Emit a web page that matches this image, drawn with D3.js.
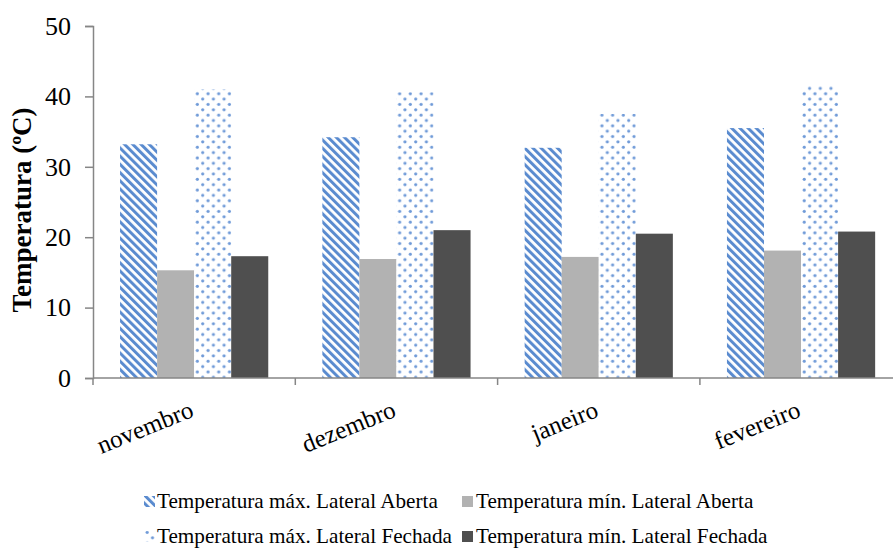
<!DOCTYPE html>
<html>
<head>
<meta charset="utf-8">
<script src="https://cdn.jsdelivr.net/npm/d3@7"></script>
<style>
  html, body { margin: 0; padding: 0; background: #fff; }
  svg { display: block; font-family: "Liberation Serif", "Times New Roman", serif; }
</style>
</head>
<body>
<svg id="chart" width="893" height="552"></svg>
<script>
const categories = ["novembro", "dezembro", "janeiro", "fevereiro"];
const seriesNames = [
  "Temperatura máx. Lateral Aberta",
  "Temperatura mín. Lateral Aberta",
  "Temperatura máx. Lateral Fechada",
  "Temperatura mín. Lateral Fechada"
];
const maxAberta  = [33.2, 34.2, 32.7, 35.5];
const minAberta  = [15.3, 16.9, 17.2, 18.1];
const maxFechada = [41.0, 40.6, 37.5, 41.5];
const minFechada = [17.3, 21.0, 20.5, 20.8];
const yTicks = [0, 10, 20, 30, 40, 50];
const yTitle = "Temperatura (ºC)";

const seriesValues = [maxAberta, minAberta, maxFechada, minFechada];
const fills = ["url(#stripes)", "#b2b2b2", "url(#dots)", "#4f4f4f"];

const svg = d3.select("#chart");
const defs = svg.append("defs");

// diagonal stripes "\" pattern
const stripes = defs.append("pattern")
  .attr("id", "stripes")
  .attr("patternUnits", "userSpaceOnUse")
  .attr("width", 5.8).attr("height", 5.8)
  .attr("patternTransform", "rotate(-45)");
stripes.append("rect").attr("width", 5.8).attr("height", 5.8).attr("fill", "#ffffff");
stripes.append("rect").attr("x", 0).attr("y", 0).attr("width", 3).attr("height", 5.8).attr("fill", "#5a8bcf");

// dotted pattern
const dots = defs.append("pattern")
  .attr("id", "dots")
  .attr("patternUnits", "userSpaceOnUse")
  .attr("width", 10.7).attr("height", 10.7);
dots.append("rect").attr("width", 10.7).attr("height", 10.7).attr("fill", "#ffffff");
dots.append("circle").attr("cx", 2.7).attr("cy", 2.7).attr("r", 1.6).attr("fill", "#6f9ad8");
dots.append("circle").attr("cx", 8.05).attr("cy", 8.05).attr("r", 1.6).attr("fill", "#6f9ad8");

const x0Left = 93, bandW = 202.3;
const x0 = d3.scaleBand().domain(categories).range([x0Left, x0Left + bandW * categories.length]).padding(0);
const x1 = d3.scaleBand().domain(d3.range(seriesNames.length)).range([0, x0.bandwidth()]).paddingInner(0).paddingOuter(0.73);
const y = d3.scaleLinear().domain([0, 50]).range([378, 26]);

// bars
categories.forEach((c, ci) => {
  const g = svg.append("g").attr("transform", `translate(${x0(c)},0)`);
  g.selectAll("rect")
    .data(seriesValues.map((arr, si) => ({ si, v: arr[ci] })))
    .join("rect")
    .attr("x", d => x1(d.si))
    .attr("y", d => y(d.v))
    .attr("width", x1.bandwidth())
    .attr("height", d => y(0) - y(d.v))
    .attr("fill", d => fills[d.si]);
});

const axisColor = "#868686";

// Y axis
const yAxis = d3.axisLeft(y).tickValues(yTicks).tickSize(8).tickPadding(14).tickFormat(d3.format("d"));
const yg = svg.append("g").attr("transform", `translate(${x0Left},0)`).call(yAxis);
yg.select(".domain").attr("stroke", axisColor).attr("stroke-width", 1.5);
yg.selectAll(".tick line").attr("stroke", axisColor).attr("stroke-width", 1.5);
yg.selectAll(".tick text").attr("font-size", 26).attr("fill", "#000")
  .attr("font-family", "'Liberation Serif', serif");

// X axis line
svg.append("line")
  .attr("x1", x0Left).attr("x2", 893)
  .attr("y1", y(0)).attr("y2", y(0))
  .attr("stroke", axisColor).attr("stroke-width", 1.5);

// category boundary ticks
const boundaries = d3.range(categories.length + 1).map(i => x0Left + i * bandW);
svg.selectAll(".ctick").data(boundaries.filter(b => b <= 893)).join("line")
  .attr("x1", d => d).attr("x2", d => d)
  .attr("y1", y(0)).attr("y2", y(0) + 7)
  .attr("stroke", axisColor).attr("stroke-width", 1.5);

// category labels
svg.selectAll(".clabel").data(categories).join("text")
  .attr("transform", d => `translate(${x0(d) + x0.bandwidth() / 2 + 1},416) rotate(-22)`)
  .attr("text-anchor", "end")
  .attr("font-size", 25)
  .attr("fill", "#000")
  .text(d => d);

// Y title
svg.append("text")
  .attr("transform", `translate(31,${(y(0) + y(50)) / 2 + 8}) rotate(-90)`)
  .attr("text-anchor", "middle")
  .attr("font-size", 27)
  .attr("font-weight", "bold")
  .attr("fill", "#000")
  .text(yTitle);

// Legend
const legendPos = [
  { mx: 144, tx: 157, by: 508 },
  { mx: 462, tx: 476, by: 508 },
  { mx: 144, tx: 157, by: 543 },
  { mx: 462, tx: 476, by: 543 }
];
seriesNames.forEach((name, i) => {
  const p = legendPos[i];
  svg.append("rect")
    .attr("x", p.mx).attr("y", p.by - 12)
    .attr("width", 11).attr("height", 11)
    .attr("fill", fills[i]);
  svg.append("text")
    .attr("x", p.tx).attr("y", p.by)
    .attr("font-size", 21.2)
    .attr("fill", "#000")
    .text(name);
});
</script>
</body>
</html>
